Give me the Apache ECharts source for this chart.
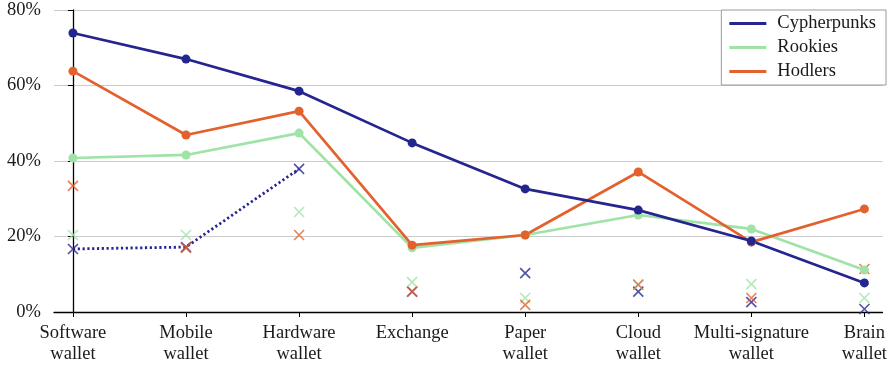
<!DOCTYPE html>
<html>
<head>
<meta charset="utf-8">
<script src="https://cdn.jsdelivr.net/npm/echarts@6/dist/echarts.min.js"></script>
<style>
  html, body { margin: 0; padding: 0; background: #fff; }
  #chart { width: 890px; height: 366px; }
</style>
</head>
<body>
<div id="chart"></div>
<script>
// Wallet categories along the x axis
const categories = ['Software\nwallet', 'Mobile\nwallet', 'Hardware\nwallet', 'Exchange',
  'Paper\nwallet', 'Cloud\nwallet', 'Multi-signature\nwallet', 'Brain\nwallet'];

// Share of each group using the wallet type (%)
const cypherpunks = [73.9, 67.0, 58.5, 44.8, 32.6, 27.0, 18.8, 7.7];
const rookies     = [40.8, 41.6, 47.4, 17.0, 20.4, 25.7, 22.0, 11.1];
const hodlers     = [63.8, 46.9, 53.2, 17.7, 20.4, 37.1, 18.5, 27.3];

// Secondary measurements, drawn as crosses (%)
const cypherpunksX = [16.7, 17.2, 37.9, 5.4, 10.3, 5.4, 2.6, 0.8];
const rookiesX     = [20.4, 20.4, 26.5, 7.9, 3.7, 7.1, 7.4, 3.7];
const hodlersX     = [33.4, 17.0, 20.4, 5.4, 1.9, 7.3, 3.7, 11.4];

// Only the first three crosses of Cypherpunks are joined by a dotted line
const cypherpunksLinked = 3;

// Y axis ticks
const yTicks = [0, 20, 40, 60, 80];

const BLUE = '#25258f';
const GREEN = '#9fe3a6';
const ORANGE = '#e3612c';
const FONT = 'Liberation Serif';
const CROSS = 'path://M0,0L10,10M10,0L0,10';

const idx = categories.map((_, i) => i);
const pairs = arr => arr.map((v, i) => [i, v]);

function mainLine(name, values, color) {
  return {
    name, type: 'line', data: pairs(values),
    symbol: 'circle', symbolSize: 9,
    lineStyle: { color, width: 2.7 },
    itemStyle: { color },
    z: 5
  };
}

function crosses(name, values, color, z) {
  return {
    name, type: 'scatter', data: pairs(values),
    symbol: CROSS, symbolSize: 10,
    itemStyle: { color: 'none', borderColor: color, borderWidth: 1.6 },
    z
  };
}

const chart = echarts.init(document.getElementById('chart'), null, { renderer: 'canvas' });

chart.setOption({
  animation: false,
  textStyle: { fontFamily: FONT },
  grid: { left: 54, right: 5, top: 10, bottom: 54 },
  xAxis: {
    type: 'value',
    min: -0.1675,
    max: 7.16,
    axisLine: { show: true, lineStyle: { color: '#000', width: 1.3 } },
    axisTick: { show: true, customValues: idx, length: 5, lineStyle: { color: '#000', width: 1 } },
    axisLabel: {
      customValues: idx,
      formatter: v => categories[Math.round(v)] || '',
      color: '#1a1a1a', fontFamily: FONT, fontSize: 18.5, lineHeight: 21, margin: 11
    },
    splitLine: { show: false }
  },
  yAxis: {
    type: 'value',
    min: 0, max: 80, interval: 10,
    axisLine: { show: true, lineStyle: { color: '#000', width: 1.3 } },
    axisTick: { show: true, customValues: yTicks, length: 5, lineStyle: { color: '#000', width: 1 } },
    axisLabel: {
      customValues: yTicks,
      formatter: v => v + '%',
      color: '#1a1a1a', fontFamily: FONT, fontSize: 18.5, margin: 13
    },
    splitLine: { show: true, lineStyle: { color: '#cccccc', width: 1.2 } }
  },
  legend: {
    data: ['Cypherpunks', 'Rookies', 'Hodlers'],
    orient: 'vertical',
    right: 4, top: 10,
    icon: 'rect',
    itemWidth: 37, itemHeight: 3,
    itemGap: 5,
    padding: [4, 10, 4, 8],
    backgroundColor: '#fff',
    borderColor: '#9a9a9a', borderWidth: 1,
    textStyle: { fontFamily: FONT, fontSize: 18.5, color: '#1a1a1a', padding: [0, 0, 0, 6] }
  },
  series: [
    crosses('CypherpunksX', cypherpunksX, BLUE, 2),
    crosses('RookiesX', rookiesX, GREEN, 3),
    crosses('HodlersX', hodlersX, ORANGE, 4),
    {
      name: 'CypherpunksLinked', type: 'line',
      data: pairs(cypherpunksX.slice(0, cypherpunksLinked)),
      symbol: 'none',
      lineStyle: { color: BLUE, width: 2.8, type: [2.2, 2.6] },
      z: 2
    },
    mainLine('Rookies', rookies, GREEN),
    mainLine('Hodlers', hodlers, ORANGE),
    mainLine('Cypherpunks', cypherpunks, BLUE)
  ]
});
</script>
</body>
</html>
